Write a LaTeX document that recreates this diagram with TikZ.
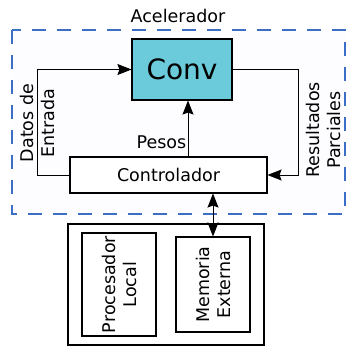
\documentclass[tikz,border=0pt]{standalone}
\usepackage{fontspec}
\setmainfont{DejaVu Sans}
\usetikzlibrary{positioning, arrows.meta}
\definecolor{convcyan}{HTML}{6BCBDB}
\definecolor{accblue}{HTML}{3B6FC6}

\begin{document}
\begin{tikzpicture}[
    x=1pt, y=-1pt,
    box/.style={draw, rectangle, line width=1.1pt, fill=#1, inner sep=0pt, align=center},
    box/.default=white,
    tip/.tip={Stealth[length=14pt,width=11pt,inset=2pt]},
    arrow/.style={-tip, line width=0.9pt},
    lbl/.style={font=\fontsize{17.5}{21}\selectfont, align=center}
]
    \useasboundingbox (0,0) rectangle (346,346);

    % accelerator frame
    \draw[accblue, line width=1.8pt, dash pattern=on 14pt off 11pt, fill=blue!0.6] (12,30) rectangle (345,214);
    \node[lbl] (acc) at (178,16) {Acelerador};

    \node[box=convcyan, minimum width=100pt, minimum height=61pt, font=\fontsize{28}{32}\selectfont] (conv) at (182,69.5) {Conv};
    \node[box, minimum width=197pt, minimum height=36pt, font=\fontsize{17.5}{20}\selectfont] (ctrl) at (168.5,175) {Controlador};

    % host side
    \node[box, minimum width=196pt, minimum height=121pt] (host) at (166,284.5) {};
    \node[box, minimum width=74pt, minimum height=103pt] (proc) at (119,284.5) {};
    \node[lbl, rotate=90] (proctxt) at (proc) {Procesador\\Local};
    \node[box, minimum width=74pt, minimum height=95pt] (mem) at (213,284.5) {};
    \node[lbl, rotate=90] (memtxt) at (mem) {Memoria\\Externa};

    \coordinate (lft) at (37,0);
    \coordinate (rgt) at (298,0);
    \coordinate (pw) at (188,0);

    \draw[arrow] (ctrl.west) -- (ctrl.west -| lft) -- (conv.west -| lft) -- (conv.west);
    \draw[arrow] (conv.east) -- (conv.east -| rgt) -- (ctrl.east -| rgt) -- (ctrl.east);
    \draw[arrow] (ctrl.north -| pw) -- node[lbl, left, pos=0.25, xshift=2pt] (pesos) {Pesos} (conv.south -| pw);
    \draw[arrow, tip-tip] (ctrl.south -| mem) -- (mem.north);

    \node[lbl, rotate=90] (datos) at (37,123) {Datos de\\Entrada};
    \node[lbl, rotate=90] (res) at (323,130) {Resultados\\Parciales};
\end{tikzpicture}
\end{document}
